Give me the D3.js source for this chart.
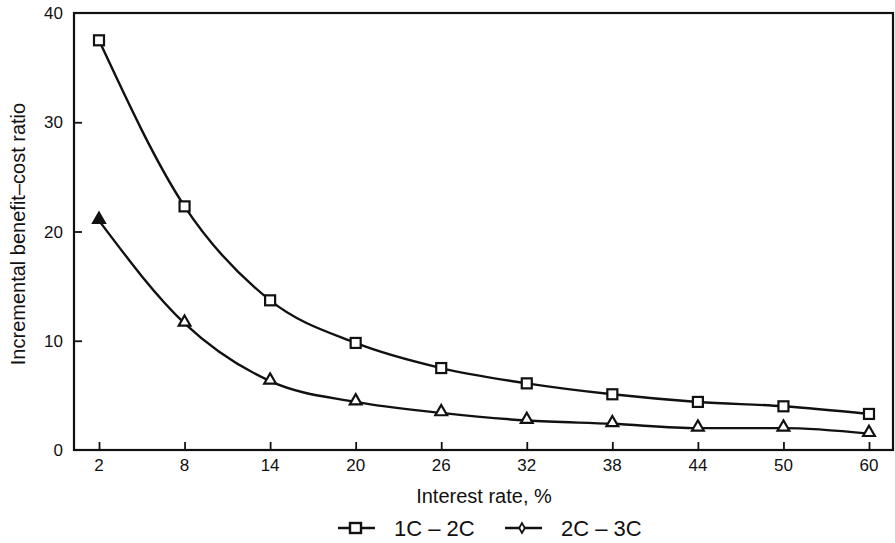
<!DOCTYPE html>
<html>
<head>
<meta charset="utf-8">
<script src="https://cdn.jsdelivr.net/npm/d3@7"></script>
<style>
  body { margin: 0; background: #fff; }
  text { font-family: "Liberation Sans", Arial, sans-serif; fill: #111; }
</style>
</head>
<body>
<div id="chart"></div>
<script>
// interest rate categories (evenly spaced on the axis)
var rates = ["2", "8", "14", "20", "26", "32", "38", "44", "50", "60"];
var series1 = [37.5, 22.3, 13.7, 9.8, 7.5, 6.1, 5.1, 4.4, 4.0, 3.3];   // 1C - 2C
var series2 = [21.0, 11.6, 6.3, 4.4, 3.4, 2.7, 2.4, 2.0, 2.0, 1.5];    // 2C - 3C
var yTicks = [0, 10, 20, 30, 40];
var seriesNames = ["1C \u2013 2C", "2C \u2013 3C"];

function drawChart() {
  var W = 895, H = 543;
  var pLeft = 74, pTop = 13, pRight = 893, pBottom = 450;

  var svg = d3.select("#chart").append("svg")
    .attr("width", W).attr("height", H);

  var x = d3.scalePoint().domain(rates).range([99, 869]);
  var y = d3.scaleLinear().domain([0, 40]).range([pBottom, pTop]);

  // frame
  svg.append("rect")
    .attr("x", pLeft).attr("y", pTop)
    .attr("width", pRight - pLeft).attr("height", pBottom - pTop)
    .attr("fill", "none").attr("stroke", "#111").attr("stroke-width", 2.2);

  // y axis, ticks point inward
  var yAxis = svg.append("g")
    .attr("transform", `translate(${pLeft},0)`)
    .call(d3.axisRight(y).tickValues(yTicks).tickSize(8).tickFormat(""));
  yAxis.select(".domain").remove();
  yAxis.selectAll("line").attr("stroke", "#111").attr("stroke-width", 1.8);
  yAxis.selectAll(".tick").filter(d => d == 0 || d == 40).select("line").remove();

  svg.append("g").selectAll("text")
    .data(yTicks)
    .join("text")
      .attr("x", 63)
      .attr("y", d => y(d) + 6)
      .attr("text-anchor", "end")
      .style("font-size", "17px")
      .text(d => d);

  // x axis, ticks point up into the plot
  var xAxis = svg.append("g")
    .attr("transform", `translate(0,${pBottom})`)
    .call(d3.axisTop(x).tickSize(8).tickFormat(""));
  xAxis.select(".domain").remove();
  xAxis.selectAll("line").attr("stroke", "#111").attr("stroke-width", 1.8);

  svg.append("g").selectAll("text")
    .data(rates)
    .join("text")
      .attr("x", d => x(d))
      .attr("y", 471)
      .attr("text-anchor", "middle")
      .style("font-size", "17px")
      .text(d => d);

  // axis titles
  svg.append("text")
    .attr("x", 484).attr("y", 503)
    .attr("text-anchor", "middle")
    .style("font-size", "20px")
    .text("Interest rate, %");

  svg.append("text")
    .attr("transform", "translate(25,234) rotate(-90)")
    .attr("text-anchor", "middle")
    .style("font-size", "20px")
    .text("Incremental benefit\u2013cost ratio");

  // lines
  var line = d3.line()
    .x((d, i) => x(rates[i]))
    .y(d => y(d))
    .curve(d3.curveMonotoneX);

  [series1, series2].forEach(s => {
    svg.append("path")
      .datum(s)
      .attr("d", line)
      .attr("fill", "none")
      .attr("stroke", "#111")
      .attr("stroke-width", 2.4);
  });

  // markers
  svg.append("g").selectAll("rect")
    .data(series1)
    .join("rect")
      .attr("x", (d, i) => x(rates[i]) - 5)
      .attr("y", d => y(d) - 5)
      .attr("width", 10).attr("height", 10)
      .attr("fill", "#fff")
      .attr("stroke", "#111").attr("stroke-width", 2.2);

  var tri = d3.symbol().type(d3.symbolTriangle).size(60);
  svg.append("g").selectAll("path")
    .data(series2)
    .join("path")
      .attr("transform", (d, i) => `translate(${x(rates[i])},${y(d) - 1})`)
      .attr("d", tri)
      .attr("fill", (d, i) => i == 0 ? "#111" : "#fff")
      .attr("stroke", "#111").attr("stroke-width", 2.2);

  // legend
  var legend = svg.append("g");
  var lx = [338, 505];
  var tx = [394, 561];
  var ly = 528;
  lx.forEach((x0, i) => {
    legend.append("line")
      .attr("x1", x0).attr("x2", x0 + 37)
      .attr("y1", ly).attr("y2", ly)
      .attr("stroke", "#111").attr("stroke-width", 2.4);
    legend.append("text")
      .attr("x", tx[i]).attr("y", ly + 8)
      .style("font-size", "22px")
      .text(seriesNames[i]);
  });
  legend.append("rect")
    .attr("x", 350).attr("y", ly - 5)
    .attr("width", 11).attr("height", 10)
    .attr("fill", "#fff").attr("stroke", "#111").attr("stroke-width", 2.4);
  legend.append("path")
    .attr("transform", `translate(522,${ly})`)
    .attr("d", d3.symbol().type(d3.symbolDiamond).size(28))
    .attr("fill", "#fff").attr("stroke", "#111").attr("stroke-width", 1.8);
}

drawChart();
</script>
</body>
</html>
